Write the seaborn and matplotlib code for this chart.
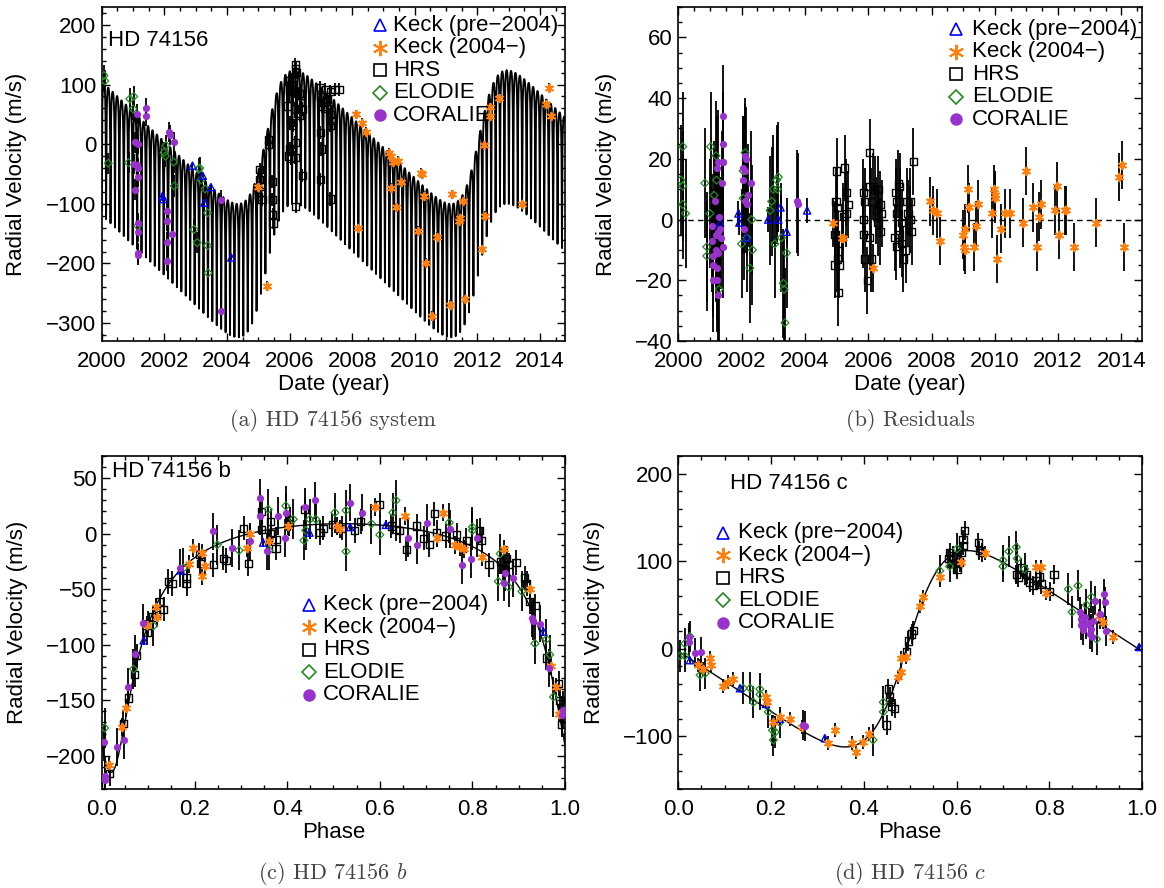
import numpy as np
import pandas as pd
import matplotlib
matplotlib.use('Agg')
import matplotlib.pyplot as plt
from matplotlib.ticker import MultipleLocator, FormatStrFormatter
import seaborn as sns

sns.set_theme(style='ticks')
plt.rcParams['font.family'] = ['Liberation Sans', 'DejaVu Sans']
plt.rcParams['mathtext.fontset'] = 'cm'
for k in ['text.color', 'axes.labelcolor', 'xtick.color', 'ytick.color', 'axes.edgecolor']:
    plt.rcParams[k] = 'black'

# instruments (order used everywhere)
inst_names = ['Keck (pre\u22122004)', 'Keck (2004\u2212)', 'HRS', 'ELODIE', 'CORALIE']
inst_colors = ['#0000ff', '#ff7f0e', '#000000', '#228b22', '#9932cc']
inst_err = [4, 8, 11, 18, 17]   # typical error bar (m/s)

# orbital elements: [b, c]
period_yr = [51.64 / 365.25, 6.80]
semi_amp = [112.0, 112.0]
ecc = [0.63, 0.38]
omega_deg = [180.0, 270.0]
t_peri = [2000.14, 2005.25]
phase_peri = [0.02, 0.492]
gamma_sys = -100.0
gamma_b = -103.0
gamma_c = 0.0

# ---- (a) full system: date (yr), RV (m/s)
a_keck1_t = [2001.94, 2001.97, 2002.90, 2003.23, 2003.28, 2003.49, 2004.14]
a_keck1_rv = [-87, -92, -36, -53, -98, -72, -190]
a_keck2_t = [2005.00, 2005.27, 2008.12, 2008.30, 2008.45, 2008.20, 2009.19, 2009.25, 2009.30, 2009.45,
             2009.25, 2009.55, 2009.40, 2010.10, 2010.20, 2010.24, 2010.30, 2010.35, 2010.54, 2010.70,
             2011.13, 2011.20, 2011.40, 2011.45, 2011.55, 2011.60, 2012.15, 2012.20, 2012.25, 2012.40,
             2012.42, 2012.70, 2013.44, 2014.19, 2014.30, 2014.35]
a_keck2_rv = [-72, -238, 50, 36, 20, -140, -14, -20, -30, -28,
              -73, -64, -106, -146, -48, -50, -87, -199, -288, -155,
              -269, -84, -129, -123, -96, -259, -175, -2, -120, 62,
              48, 78, -101, 67, 95, 48]
a_hrs_t = [2005.05, 2005.05, 2005.08, 2005.10, 2005.12, 2005.00, 2005.32, 2005.33, 2005.45, 2005.45,
           2005.46, 2005.47, 2005.98, 2006.00, 2005.95, 2006.02, 2006.00, 2005.96, 2006.05, 2006.18,
           2006.20, 2006.22, 2006.07, 2006.05, 2006.10, 2006.18, 2006.40, 2006.25, 2006.33, 2006.10,
           2006.18, 2006.07, 2006.18, 2006.41, 2006.20, 2006.30, 2006.35, 2006.15, 2006.12, 2006.98,
           2007.14, 2007.30, 2007.45, 2007.00, 2007.05, 2007.30, 2007.30, 2006.98, 2007.02, 2006.98,
           2007.30, 2007.20, 2007.10, 2007.35, 2007.58, 2007.20]
a_hrs_rv = [-42, -59, -70, -80, -93, -88, 8, 0, -62, -93,
            -118, -132, 106, 92, 64, 36, -8, -20, -24, 134,
            127, 120, 109, 98, 76, 59, 59, 51, 48, 31,
            3, -11, -22, -53, -104, 85, 70, 88, 100, 95,
            92, 88, 92, 80, 64, 50, 31, 20, -8, -59,
            -92, 75, 70, 40, 92, 60]
a_elodie_t = [2000.07, 2000.10, 2000.21, 2000.86, 2000.90, 2001.02, 2001.00, 2001.15, 2001.99, 2002.03,
              2002.05, 2002.30, 2002.32, 2002.95, 2003.05, 2003.10, 2003.13, 2003.17, 2003.38, 2003.38,
              2003.40, 2003.30]
a_elodie_rv = [115, 106, -32, -31, 76, 80, 59, -137, -14, -20,
               -2, -30, -70, -143, -165, -42, -40, -60, -115, -170,
               -216, -75]
a_coralie_t = [2001.12, 2001.42, 2001.42, 2001.07, 2001.15, 2001.02, 2001.12, 2001.07, 2001.15, 2001.15,
               2001.17, 2001.17, 2001.16, 2001.17, 2002.15, 2002.18, 2002.31, 2002.10, 2002.10, 2002.10,
               2002.10, 2002.26, 2003.82, 2003.82]
a_coralie_rv = [50, 60, 47, 3, 0, -33, -35, -76, -40, -55,
                -132, -147, -182, -185, 20, 15, 4, -112, -128, -164,
                -196, -150, -94, -280]

# ---- (b) residuals: date (yr), O-C (m/s)
b_keck1_t = [2001.32, 2001.90, 2001.93, 2002.16, 2002.84, 2003.16, 2003.23, 2003.42, 2004.07]
b_keck1_res = [-1, 2, -1, -6, 0, 0, 4, -4, 3]
b_keck2_t = [2004.90, 2005.17, 2005.20, 2006.14, 2007.95, 2008.05, 2008.16, 2008.28, 2009.00, 2009.02,
             2009.05, 2009.07, 2009.16, 2009.19, 2009.40, 2009.34, 2009.47, 2009.90, 2009.97, 2010.00,
             2009.99, 2010.06, 2010.19, 2010.32, 2010.47, 2010.89, 2010.98, 2011.21, 2011.32, 2011.40,
             2011.47, 2011.89, 2011.97, 2012.03, 2012.21, 2012.26, 2012.51, 2013.19, 2013.93, 2014.01,
             2014.07]
b_keck2_res = [-1, -6, -6, -16, 6, 3, 2, -7, -5, -9,
               -10, -3, 10, 4, -2, -9, 5, 2, 10, 7,
               8, -13, -3, 2, 2, -1, 16, 4, -9, 1,
               5, 3, 11, -5, 3, 3, -9, -1, 14, 18,
               -9]
b_hrs_t = [2005.00, 2004.98, 2005.02, 2004.95, 2004.95, 2005.02, 2005.05, 2005.08, 2005.05, 2005.26,
           2005.31, 2005.37, 2005.31, 2005.21, 2005.84, 2005.89, 2005.84, 2005.84, 2005.89, 2005.97,
           2006.05, 2006.05, 2006.10, 2006.05, 2006.10, 2006.16, 2006.26, 2006.31, 2006.31, 2006.37,
           2006.37, 2006.42, 2006.21, 2006.87, 2006.89, 2006.89, 2006.84, 2006.89, 2006.95, 2007.00,
           2007.00, 2007.06, 2007.00, 2007.06, 2007.11, 2007.21, 2007.26, 2007.32, 2007.32, 2007.37,
           2007.42, 2007.19]
b_hrs_res = [16, 6, 4, -5, -15, -13, -24, -15, -8, 17,
             9, 5, 2, 1, 9, 6, 0, -5, -13, -20,
             22, 11, 6, -6, -13, 11, 3, 10, -1, -4,
             5, 2, 10, 9, 6, 2, -6, -9, 12, 11,
             6, -1, -5, -8, -13, 6, 2, 6, 0, -4,
             19, -10]
b_elodie_t = [2000.14, 2000.08, 2000.14, 2000.14, 2000.23, 2000.84, 2000.90, 2000.90, 2001.02, 2001.00,
              2001.13, 2001.19, 2001.21, 2001.29, 2002.00, 2002.05, 2002.05, 2002.11, 2002.16, 2002.26,
              2002.34, 2002.32, 2002.90, 2002.95, 2003.00, 2003.05, 2003.11, 2003.13, 2003.16, 2003.26,
              2003.32, 2003.34, 2003.37, 2003.42]
b_elodie_res = [24, 13, 11, 5, 2, 12, -9, -12, 24, 2,
                8, 21, 13, -23, -8, 7, 16, 22, -6, -16,
                -10, 0, 3, 6, 10, -8, 13, 10, 14, -6,
                -21, -23, -34, -11]
b_coralie_t = [2001.05, 2001.05, 2001.09, 2001.11, 2001.11, 2001.16, 2001.19, 2001.19, 2001.21, 2001.26,
               2001.26, 2001.26, 2001.23, 2001.23, 2001.26, 2001.29, 2001.32, 2001.34, 2001.37, 2001.40,
               2001.42, 2001.42, 2001.42, 2001.42, 2002.03, 2002.05, 2002.11, 2002.11, 2002.14, 2002.12,
               2002.16, 2002.07, 2002.21, 2002.29, 2003.74, 2003.79]
b_coralie_res = [-2, -7, -12, -15, -20, 6, -5, -10, 17, 19,
                 -4, -11, -16, -20, -25, 1, -3, -6, 12, 19,
                 34, 25, 19, -9, 17, 13, 16, 21, 20, 6,
                 5, -3, 8, 12, 6, 5]

# ---- (c) HD 74156 b phased: phase, RV (m/s)
c_keck1_ph = [0.090, 0.170, 0.348, 0.448, 0.536, 0.613, 0.953]
c_keck1_rv = [-96, -33, -8, 1, 6, 8, -88]
c_keck2_ph = [0.016, 0.044, 0.051, 0.097, 0.117, 0.118, 0.187, 0.196, 0.215, 0.215,
              0.222, 0.314, 0.320, 0.360, 0.402, 0.507, 0.514, 0.590, 0.654, 0.737,
              0.723, 0.763, 0.773, 0.781, 0.820, 0.868, 0.925, 0.970, 0.980, 0.987]
c_keck2_rv = [-208, -174, -157, -82, -66, -75, -27, -13, -17, -38,
              -29, -13, 0, -7, 7, 7, 4, 24, 16, 19,
              -4, -10, -12, -14, -21, -14, -50, -119, -138, -162]
c_hrs_ph = [0.017, 0.046, 0.057, 0.071, 0.075, 0.097, 0.100, 0.110, 0.118, 0.125,
            0.133, 0.143, 0.151, 0.183, 0.183, 0.210, 0.212, 0.240, 0.262, 0.268,
            0.306, 0.316, 0.345, 0.345, 0.364, 0.364, 0.376, 0.376, 0.405, 0.404,
            0.438, 0.471, 0.478, 0.497, 0.518, 0.546, 0.559, 0.600, 0.625, 0.635,
            0.643, 0.657, 0.680, 0.695, 0.707, 0.718, 0.723, 0.742, 0.766, 0.787,
            0.816, 0.820, 0.836, 0.861, 0.867, 0.874, 0.878, 0.895, 0.913, 0.917,
            0.924, 0.935, 0.960, 0.986, 0.989, 0.993]
c_hrs_rv = [-216, -171, -148, -127, -110, -89, -81, -75, -73, -61,
            -68, -43, -45, -40, -45, -19, -27, -28, -22, -24,
            5, -27, 20, 4, 11, 0, -5, -13, 13, 9,
            22, 1, 5, 8, 5, 3, 11, 26, 7, 4,
            3, -14, 7, -4, -10, 18, 1, -2, -1, -6,
            3, -6, -28, -25, -31, -22, -28, -26, -40, -45,
            -61, -65, -112, -135, -150, -172]
c_elodie_ph = [0.006, 0.068, 0.111, 0.176, 0.249, 0.296, 0.359, 0.361, 0.397, 0.413,
               0.436, 0.440, 0.449, 0.462, 0.503, 0.527, 0.527, 0.582, 0.600, 0.628,
               0.635, 0.750, 0.800, 0.800, 0.856, 0.860, 0.878, 0.907, 0.935, 0.960,
               0.967, 0.975]
c_elodie_rv = [-175, -122, -83, -31, -10, -15, 22, -15, 25, 13,
               -6, 3, 13, 13, 19, -16, 21, 9, -1, 19,
               30, 10, 6, 3, -43, -18, -48, -52, -99, -95,
               -109, -147]
c_coralie_ph = [0.004, 0.006, 0.007, 0.032, 0.048, 0.057, 0.071, 0.089, 0.168, 0.240,
                0.280, 0.320, 0.341, 0.341, 0.356, 0.381, 0.395, 0.397, 0.438, 0.459,
                0.536, 0.561, 0.661, 0.681, 0.701, 0.751, 0.778, 0.797, 0.810, 0.868,
                0.870, 0.888, 0.928, 0.930, 0.946, 0.966, 0.993, 0.996]
c_coralie_rv = [-188, -218, -222, -192, -186, -138, -108, -80, -31, 2,
                -13, -7, 32, 16, -16, 16, -4, 19, 24, 30,
                28, 19, -4, -10, 10, 4, -28, -23, -4, -44,
                -35, -40, -76, -79, -81, -121, -163, -159]

# ---- (d) HD 74156 c phased: phase, RV (m/s)
d_keck1_ph = [0.025, 0.133, 0.189, 0.218, 0.316, 0.994]
d_keck1_rv = [-13, -45, -63, -80, -102, 2]
d_keck2_ph = [0.043, 0.053, 0.068, 0.070, 0.096, 0.108, 0.119, 0.190, 0.192, 0.205,
              0.219, 0.241, 0.266, 0.323, 0.338, 0.374, 0.384, 0.399, 0.412, 0.474,
              0.481, 0.481, 0.492, 0.521, 0.528, 0.564, 0.610, 0.661, 0.772, 0.783,
              0.792, 0.907, 0.916, 0.937]
d_keck2_rv = [-19, -23, -11, -18, -42, -38, -34, -55, -61, -84,
              -78, -80, -89, -108, -93, -107, -118, -106, -97, -32,
              -27, -11, -9, 49, 59, 82, 99, 109, 93, 93,
              64, 37, 31, 14]
d_hrs_ph = [0.449, 0.453, 0.456, 0.460, 0.467, 0.492, 0.496, 0.503, 0.507, 0.582,
            0.585, 0.593, 0.596, 0.601, 0.607, 0.614, 0.618, 0.614, 0.610, 0.647,
            0.649, 0.654, 0.729, 0.733, 0.740, 0.751, 0.758, 0.765, 0.772, 0.779,
            0.783, 0.801, 0.810]
d_hrs_rv = [-87, -46, -55, -66, -68, -3, 9, 17, 21, 103,
            110, 106, 97, 91, 99, 118, 135, 125, 110, 121,
            112, 110, 85, 82, 93, 85, 76, 72, 78, 82,
            74, 65, 85]
d_elodie_ph = [0.004, 0.014, 0.014, 0.025, 0.047, 0.058, 0.140, 0.155, 0.162, 0.176,
               0.176, 0.194, 0.203, 0.205, 0.209, 0.219, 0.420, 0.442, 0.442, 0.564,
               0.585, 0.601, 0.700, 0.700, 0.713, 0.729, 0.731, 0.747, 0.841, 0.849,
               0.862, 0.880, 0.891, 0.902]
d_elodie_rv = [-8, 6, -8, 14, -30, -28, -45, -45, -61, -46,
               -52, -72, -93, -104, -95, -84, -104, -61, -72, 89,
               94, 114, 94, 101, 111, 116, 103, 91, 68, 42,
               72, 50, 59, 11]
d_coralie_ph = [0.022, 0.024, 0.036, 0.050, 0.268, 0.273, 0.867, 0.869, 0.869, 0.873,
                0.877, 0.880, 0.886, 0.887, 0.891, 0.893, 0.894, 0.898, 0.909, 0.919,
                0.921, 0.922]
d_coralie_rv = [13, 8, -5, -4, -87, -88, 42, 34, 27, 21,
                36, 28, 30, 17, 23, 13, 32, 55, 40, 63,
                53, 20]


def kepler_rv(mean_anom, K, e, w_deg):
    M = np.mod(mean_anom + np.pi, 2 * np.pi) - np.pi
    E = M + e * np.sin(M)
    for _ in range(60):
        E = E - (E - e * np.sin(E) - M) / (1 - e * np.cos(E))
    nu = 2 * np.arctan2(np.sqrt(1 + e) * np.sin(E / 2), np.sqrt(1 - e) * np.cos(E / 2))
    return K * np.cos(nu + np.radians(w_deg))


def marker_kws(i, size):
    col = inst_colors[i]
    if i == 0:
        return dict(marker='^', s=size, facecolor='none', edgecolor=col, linewidth=1.0)
    if i == 1:
        return dict(marker=(6, 2, 0), s=size * 1.1, edgecolor=col, linewidth=1.4)
    if i == 2:
        return dict(marker='s', s=size, facecolor='none', edgecolor=col, linewidth=1.0)
    if i == 3:
        return dict(marker='D', s=size * 0.6, facecolor='none', edgecolor=col, linewidth=0.9)
    return dict(marker='o', s=size, facecolor=col, edgecolor=col, linewidth=0)


def draw_points(ax, xs, ys, size=27):
    frames = []
    for i, (x, y) in enumerate(zip(xs, ys)):
        frames.append(pd.DataFrame({'x': x, 'y': y, 'inst': inst_names[i], 'err': inst_err[i]}))
    df = pd.concat(frames, ignore_index=True)
    ax.errorbar(df['x'], df['y'], yerr=df['err'], fmt='none', ecolor='black',
                elinewidth=1.3, capsize=0, zorder=2)
    for i in [2, 3, 0, 1, 4]:
        sub = df[df['inst'] == inst_names[i]]
        sns.scatterplot(data=sub, x='x', y='y', ax=ax, legend=False, zorder=3,
                        color=inst_colors[i], **marker_kws(i, size))


def draw_legend(ax, mx, tx, y0, dy=0.0675):
    leg_styles = [dict(marker='^', ms=9, mfc='none', mew=1.2),
                  dict(marker=(6, 2, 0), ms=11, mew=1.4),
                  dict(marker='s', ms=8, mfc='none', mew=1.2),
                  dict(marker='D', ms=7, mfc='none', mew=1.2),
                  dict(marker='o', ms=9, mew=0)]
    for i in range(5):
        y = y0 - i * dy
        ax.plot([mx], [y], transform=ax.transAxes, ls='none', clip_on=False,
                color=inst_colors[i], mec=inst_colors[i], **leg_styles[i])
        ax.text(tx, y, inst_names[i], transform=ax.transAxes, va='center', ha='left',
                fontsize=16, clip_on=False)


def style_axes(ax, xmaj, xmin, ymaj, ymin):
    ax.xaxis.set_major_locator(MultipleLocator(xmaj))
    ax.xaxis.set_minor_locator(MultipleLocator(xmin))
    ax.yaxis.set_major_locator(MultipleLocator(ymaj))
    ax.yaxis.set_minor_locator(MultipleLocator(ymin))
    ax.tick_params(which='both', direction='in', top=True, right=True, labelsize=16, width=1.0)
    ax.tick_params(which='major', length=6)
    ax.tick_params(which='minor', length=3)
    ax.tick_params(axis='x', which='both', pad=7)
    ax.tick_params(axis='y', which='both', pad=4)
    for s in ax.spines.values():
        s.set_linewidth(1.2)
        s.set_color('black')


W, H = 1164, 888
fig = plt.figure(figsize=(W / 100, H / 100), dpi=100)
ax_a = fig.add_axes([101.7 / W, (H - 341) / H, 463.3 / W, 334 / H])
ax_b = fig.add_axes([678.3 / W, (H - 341) / H, 463.7 / W, 334 / H])
ax_c = fig.add_axes([102 / W, (H - 789) / H, 463 / W, 333 / H])
ax_d = fig.add_axes([678.3 / W, (H - 789) / H, 463.7 / W, 333 / H])

# (a) full two-planet model
t_grid = np.linspace(2000, 2014.8, 60000)
model_sys = gamma_sys
for j in range(2):
    model_sys = model_sys + kepler_rv(2 * np.pi * (t_grid - t_peri[j]) / period_yr[j],
                                      semi_amp[j], ecc[j], omega_deg[j])
sns.lineplot(x=t_grid, y=model_sys, ax=ax_a, color='black', lw=1.35,
             estimator=None, sort=False, zorder=1)
draw_points(ax_a, [a_keck1_t, a_keck2_t, a_hrs_t, a_elodie_t, a_coralie_t],
            [a_keck1_rv, a_keck2_rv, a_hrs_rv, a_elodie_rv, a_coralie_rv])
ax_a.set_xlim(2000, 2014.8)
ax_a.set_ylim(-330, 230)
style_axes(ax_a, 2, 0.5, 100, 20)
ax_a.xaxis.set_major_formatter(FormatStrFormatter('%d'))
ax_a.text(0.014, 0.901, 'HD 74156', transform=ax_a.transAxes, fontsize=16, va='center')
draw_legend(ax_a, 0.600, 0.628, 0.946)

# (b) residuals
ax_b.axhline(0, color='black', lw=1.0, ls=(0, (4, 3)), zorder=1)
draw_points(ax_b, [b_keck1_t, b_keck2_t, b_hrs_t, b_elodie_t, b_coralie_t],
            [b_keck1_res, b_keck2_res, b_hrs_res, b_elodie_res, b_coralie_res])
ax_b.set_xlim(2000, 2014.65)
ax_b.set_ylim(-40, 70)
style_axes(ax_b, 2, 0.5, 20, 5)
ax_b.xaxis.set_major_formatter(FormatStrFormatter('%d'))
draw_legend(ax_b, 0.598, 0.633, 0.934)

# (c) planet b phased
ph_grid = np.linspace(0, 1, 2000)
curve_b = gamma_b + kepler_rv(2 * np.pi * (ph_grid - phase_peri[0]), semi_amp[0], ecc[0], omega_deg[0])
sns.lineplot(x=ph_grid, y=curve_b, ax=ax_c, color='black', lw=1.0, estimator=None, sort=False, zorder=1)
draw_points(ax_c, [c_keck1_ph, c_keck2_ph, c_hrs_ph, c_elodie_ph, c_coralie_ph],
            [c_keck1_rv, c_keck2_rv, c_hrs_rv, c_elodie_rv, c_coralie_rv])
ax_c.set_xlim(0, 1)
ax_c.set_ylim(-230, 70)
style_axes(ax_c, 0.2, 0.05, 50, 10)
ax_c.xaxis.set_major_formatter(FormatStrFormatter('%.1f'))
ax_c.text(0.021, 0.952, 'HD 74156 b', transform=ax_c.transAxes, fontsize=16, va='center')
draw_legend(ax_c, 0.447, 0.477, 0.553)

# (d) planet c phased
curve_c = gamma_c + kepler_rv(2 * np.pi * (ph_grid - phase_peri[1]), semi_amp[1], ecc[1], omega_deg[1])
sns.lineplot(x=ph_grid, y=curve_c, ax=ax_d, color='black', lw=1.0, estimator=None, sort=False, zorder=1)
draw_points(ax_d, [d_keck1_ph, d_keck2_ph, d_hrs_ph, d_elodie_ph, d_coralie_ph],
            [d_keck1_rv, d_keck2_rv, d_hrs_rv, d_elodie_rv, d_coralie_rv])
ax_d.set_xlim(0, 1)
ax_d.set_ylim(-160, 220)
style_axes(ax_d, 0.2, 0.05, 100, 20)
ax_d.xaxis.set_major_formatter(FormatStrFormatter('%.1f'))
ax_d.text(0.111, 0.916, 'HD 74156 c', transform=ax_d.transAxes, fontsize=16, va='center')
draw_legend(ax_d, 0.096, 0.129, 0.769)

# axis labels
for ax, xl, lx in [(ax_a, 'Date (year)', -0.161), (ax_b, 'Date (year)', -0.132),
                   (ax_c, 'Phase', -0.160), (ax_d, 'Phase', -0.157)]:
    ax.set_xlabel(xl, fontsize=16)
    ax.set_ylabel('Radial Velocity (m/s)', fontsize=16)
    ax.xaxis.set_label_coords(0.5, -0.10)
    ax.yaxis.set_label_coords(lx, 0.5)

# sub-captions
cap_kw = dict(ha='center', va='center', fontsize=16, family='cmr10', color='#444444')
fig.text(333 / W, 1 - 420 / H, '(a) HD 74156 system', **cap_kw)
fig.text(910 / W, 1 - 420 / H, '(b) Residuals', **cap_kw)
fig.text(333 / W, 1 - 873 / H, '(c) HD 74156 $b$', **cap_kw)
fig.text(910 / W, 1 - 873 / H, '(d) HD 74156 $c$', **cap_kw)

fig.savefig('out.png', dpi=100)
